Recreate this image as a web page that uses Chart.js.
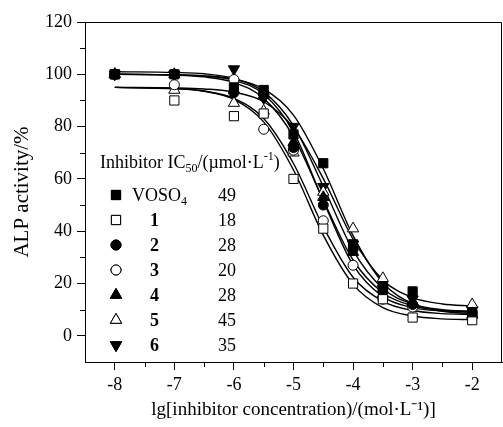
<!DOCTYPE html>
<html>
<head>
<meta charset="utf-8">
<script src="https://cdn.jsdelivr.net/npm/chart.js@4/dist/chart.umd.min.js"></script>
<style>
  body { margin: 0; background: #fff; }
  canvas { display: block; }
</style>
</head>
<body>
<canvas id="chart" width="503" height="427"></canvas>
<script>
// measured points (lg concentration vs ALP activity %)
const xValues = [-8, -7, -6, -5.5, -5, -4.5, -4, -3.5, -3, -2];
const voso4 = [100, 100, 95, 94, 77, 66, 35, 19, 17, 9];
const cmpd1 = [100, 90, 84, 85, 60, 41, 20, 14, 7, 6];
const cmpd2 = [100, 100, 93, 93, 72, 50, 33, 17, 12, 9];
const cmpd3 = [100, 96, 98, 79, 71, 44, 27, 14, 11, 8];
const cmpd4 = [100, 100, 94, 92, 74, 53, 32, 16, 13, 8];
const cmpd5 = [100, 94, 89, 86, 70, 55, 41, 22, 13, 12];
const cmpd6 = [100, 100, 102, 91, 80, 57, 35, 18, 14, 10];

// fitted curves
const fitX = [-8, -7, -6.5, -6, -5.5, -5, -4.5, -4, -3.5, -3, -2.5, -2];
const fitVoso4 = [100, 99.8, 99.4, 98.2, 94.4, 84.4, 63.9, 38.3, 20.3, 12.3, 9.4, 8.5];
const fit1 = [95, 94.5, 93.5, 90.4, 81.8, 63.4, 38.5, 19.7, 10.8, 7.6, 6.5, 6.2];
const fit2 = [100, 99.7, 99.0, 96.9, 90.8, 76.2, 51.9, 29.0, 16.5, 11.5, 9.8, 9.3];
const fit3 = [95, 94.6, 93.6, 90.8, 83.1, 65.9, 41.7, 22.4, 13.2, 9.7, 8.5, 8.2];
const fit4 = [100, 99.8, 99.4, 97.7, 92.4, 78.0, 51.6, 27.1, 15.0, 10.8, 9.5, 9.1];
const fit5 = [95, 94.8, 94.4, 93.2, 89.5, 79.6, 60.1, 37.0, 21.4, 14.6, 12.2, 11.4];
const fit6 = [101, 100.7, 100.2, 98.4, 93.3, 80.4, 57.1, 32.7, 18.1, 12.1, 10.0, 9.3];

const names = ['VOSO4', '1', '2', '3', '4', '5', '6'];
const ic50 = [49, 18, 28, 20, 28, 45, 35];

const xTicks = [-8, -7, -6, -5, -4, -3, -2];
const xMinor = [-7.5, -6.5, -5.5, -4.5, -3.5, -2.5];
const yTicks = [0, 20, 40, 60, 80, 100, 120];
const yMinor = [10, 30, 50, 70, 90, 110];

const measured = [voso4, cmpd1, cmpd2, cmpd3, cmpd4, cmpd5, cmpd6];
const fits = [fitVoso4, fit1, fit2, fit3, fit4, fit5, fit6];
const styles = ['rect', 'rect', 'circle', 'circle', 'triangle', 'triangle', 'triangle'];
const filled = [true, false, true, false, true, false, true];
const rotations = [0, 0, 0, 0, 0, 0, 180];
const radii = { rect: 6.5, circle: 5, triangle: 6.5 };

const serif = '"Liberation Serif", "Times New Roman", serif';

let datasets = [];
fits.forEach((f, i) => {
  datasets.push({
    label: names[i] + ' fit',
    data: fitX.map((x, j) => ({ x: x, y: f[j] })),
    showLine: true,
    cubicInterpolationMode: 'monotone',
    borderColor: '#000',
    borderWidth: 1.4,
    pointRadius: 0,
    order: 2
  });
});
measured.forEach((m, i) => {
  datasets.push({
    label: names[i],
    data: xValues.map((x, j) => ({ x: x, y: m[j] })),
    showLine: false,
    pointStyle: styles[i],
    rotation: rotations[i],
    pointRadius: radii[styles[i]],
    backgroundColor: filled[i] ? '#000' : '#fff',
    borderColor: '#000',
    borderWidth: 1,
    order: 1
  });
});

const framePlugin = {
  id: 'frame',
  afterDraw(chart) {
    const { ctx, chartArea: a, scales } = chart;
    const x = scales.x, y = scales.y;
    ctx.save();
    ctx.strokeStyle = '#000';
    ctx.lineWidth = 1;
    ctx.beginPath();
    ctx.moveTo(a.left, a.top + 0.5);
    ctx.lineTo(a.right - 0.5, a.top + 0.5);
    ctx.lineTo(a.right - 0.5, a.bottom);
    ctx.stroke();

    // minor ticks
    ctx.beginPath();
    xMinor.forEach(v => {
      const px = Math.round(x.getPixelForValue(v)) + 0.5;
      ctx.moveTo(px, a.bottom);
      ctx.lineTo(px, a.bottom + 5);
    });
    yMinor.forEach(v => {
      const py = Math.round(y.getPixelForValue(v)) + 0.5;
      ctx.moveTo(a.left, py);
      ctx.lineTo(a.left - 5, py);
    });
    ctx.stroke();

    // legend table
    ctx.fillStyle = '#000';
    ctx.textBaseline = 'alphabetic';
    const big = '18px ' + serif;
    const small = '12px ' + serif;
    let hx = 100, hy = 168;
    const put = (txt, font, dy) => {
      ctx.font = font;
      ctx.fillText(txt, hx, hy + dy);
      hx += ctx.measureText(txt).width;
    };
    put('Inhibitor IC', big, 0);
    put('50', small, 4);
    put('/(\u00b5mol\u00b7L', big, 0);
    put('-1', small, -8);
    put(')', big, 0);

    names.forEach((n, i) => {
      const ry = 195 + i * 25;
      Chart.helpers.drawPoint(ctx, {
        pointStyle: styles[i],
        radius: radii[styles[i]],
        rotation: rotations[i],
        borderWidth: 1
      }, 116, ry);
      ctx.fillStyle = filled[i] ? '#000' : '#fff';
      ctx.strokeStyle = '#000';
      ctx.lineWidth = 1;
      ctx.fill();
      ctx.stroke();
      ctx.fillStyle = '#000';
      if (i === 0) {
        hx = 132; hy = ry + 6;
        put('VOSO', big, 0);
        put('4', small, 4);
      } else {
        ctx.font = 'bold 18px ' + serif;
        ctx.textAlign = 'left';
        ctx.fillText(n, 150, ry + 6);
      }
      ctx.font = big;
      ctx.textAlign = 'right';
      ctx.fillText(String(ic50[i]), 236, ry + 6);
      ctx.textAlign = 'left';
    });
    ctx.restore();
  }
};

new Chart(document.getElementById('chart'), {
  type: 'scatter',
  data: { datasets: datasets },
  options: {
    responsive: false,
    animation: false,
    layout: { autoPadding: false, padding: { top: 22, right: 1, left: 0, bottom: 0 } },
    plugins: { legend: { display: false }, tooltip: { enabled: false } },
    scales: {
      x: {
        type: 'linear',
        min: -8.5,
        max: -1.5,
        afterBuildTicks: s => { s.ticks = xTicks.map(v => ({ value: v })); },
        afterFit: s => { s.height = 65; s.paddingLeft = 0; s.paddingRight = 0; },
        grid: { drawOnChartArea: false, tickLength: 8, color: '#000', tickColor: '#000' },
        border: { display: true, color: '#000', width: 1 },
        ticks: { color: '#000', padding: 4, maxRotation: 0, font: { family: serif, size: 18 } },
        title: {
          display: true,
          text: 'lg[inhibitor concentration)/(mol\u00b7L\u207b\u00b9)]',
          color: '#000',
          font: { family: serif, size: 19 },
          padding: { top: 0, bottom: 6 }
        }
      },
      y: {
        type: 'linear',
        min: -10,
        max: 120,
        afterBuildTicks: s => { s.ticks = yTicks.map(v => ({ value: v })); },
        afterFit: s => { s.width = 85; s.paddingTop = 0; s.paddingBottom = 0; },
        grid: { drawOnChartArea: false, tickLength: 8, color: '#000', tickColor: '#000' },
        border: { display: true, color: '#000', width: 1 },
        ticks: { color: '#000', padding: 5, font: { family: serif, size: 18 } },
        title: {
          display: true,
          text: 'ALP activity/%',
          color: '#000',
          font: { family: serif, size: 21 },
          padding: { top: 10, bottom: 0 }
        }
      }
    }
  },
  plugins: [framePlugin]
});
</script>
</body>
</html>
